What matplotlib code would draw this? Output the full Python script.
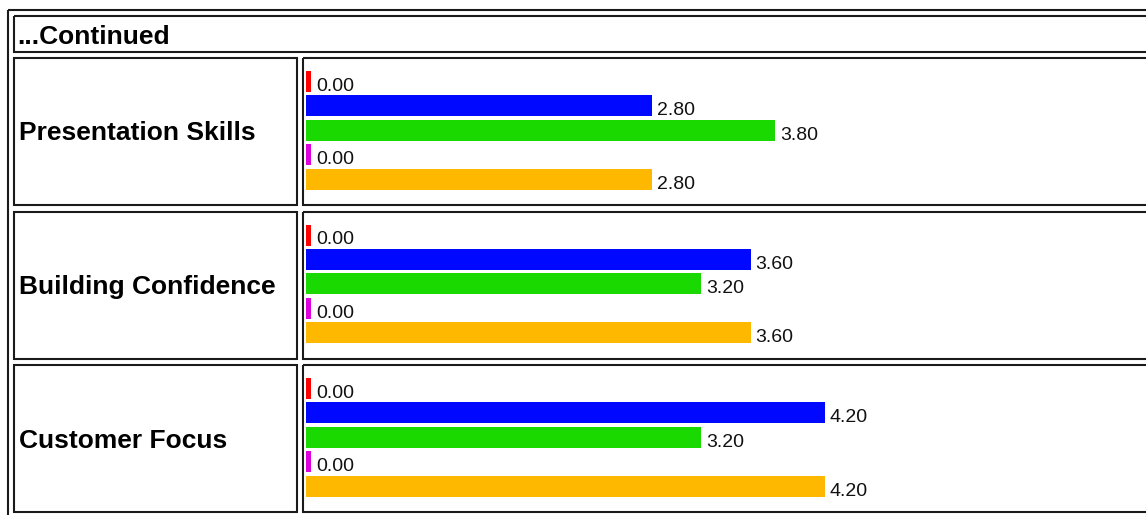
import numpy as np
import matplotlib
matplotlib.use("Agg")
import matplotlib.pyplot as plt
from matplotlib.patches import Rectangle

plt.rcParams['font.family'] = ['Liberation Sans', 'DejaVu Sans']

categories = ["Presentation Skills", "Building Confidence", "Customer Focus"]
red_vals = [0.00, 0.00, 0.00]
blue_vals = [2.80, 3.60, 4.20]
green_vals = [3.80, 3.20, 3.20]
magenta_vals = [0.00, 0.00, 0.00]
orange_vals = [2.80, 3.60, 4.20]
series_colors = ["#ff0000", "#0008ff", "#1ad900", "#dd00dd", "#ffb800"]
header = "...Continued"

W, H = 1146, 515
fig = plt.figure(figsize=(W / 100, H / 100), dpi=100)
fig.set_facecolor("white")


def px_axes(x0, y0, x1, y1):
    return fig.add_axes([x0 / W, 1 - y1 / H, (x1 - x0) / W, (y1 - y0) / H])


# background layer in pixel coords for the table borders and labels
bg = px_axes(0, 0, W, H)
bg.set_xlim(0, W)
bg.set_ylim(H, 0)
bg.axis("off")

line_kw = dict(fill=False, edgecolor="#1a1a1a", linewidth=1.5)


def box(x0, y0, x1, y1):
    bg.add_patch(Rectangle((x0, y0), x1 - x0, y1 - y0, **line_kw))


# outer table runs off the bottom/right edge of the picture
box(8, 10, 1170, 540)
box(14, 16, 1170, 52)
bg.text(17, 36.5, header, fontsize=19, fontweight="bold", va="center", ha="left")

row_tops = [58, 211.5, 365]
row_h = 147
px_per_unit = 123.5
bar_pitch = 24.4
first_center = 23.5
min_w = 5 / px_per_unit

for r, cat in enumerate(categories):
    top = row_tops[r]
    box(14, top, 297, top + row_h)
    box(303, top, 1170, top + row_h)
    bg.text(19, top + row_h / 2 + 2, cat, fontsize=19, fontweight="bold",
            va="center", ha="left")

    ax = px_axes(306, top, W, top + row_h)
    ax.axis("off")
    ax.set_xlim(0, (W - 306) / px_per_unit)
    ax.set_ylim(4 + (row_h - first_center - 4 * bar_pitch) / bar_pitch,
                -first_center / bar_pitch)

    vals = np.array([red_vals[r], blue_vals[r], green_vals[r],
                     magenta_vals[r], orange_vals[r]])
    widths = np.maximum(vals, min_w)
    ypos = np.arange(len(vals))
    ax.barh(ypos, widths, height=21 / bar_pitch, color=series_colors, left=0)
    for y, w, v in zip(ypos, widths, vals):
        ax.annotate(f"{v:.2f}", xy=(w, y + 0.43), xytext=(5, 1),
                    textcoords="offset pixels", fontsize=14,
                    va="baseline", ha="left", color="#111111")

fig.savefig("out.png", dpi=100, facecolor="white")
